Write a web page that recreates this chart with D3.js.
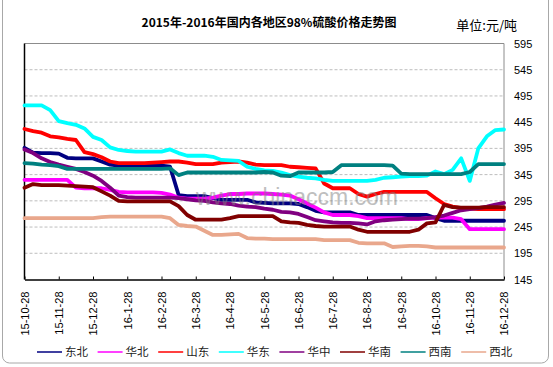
<!DOCTYPE html>
<html>
<head>
<meta charset="utf-8">
<script src="https://cdn.jsdelivr.net/npm/d3@7"></script>
<style>
  body { margin: 0; background: #fff; }
  text { font-family: "Liberation Sans", Arial, sans-serif; }
  .cjk { font-family: "Noto Sans CJK SC", sans-serif; }
</style>
</head>
<body>
<svg id="chart" width="553" height="367"></svg>
<script>
// tick labels on the category axis, one every 4 points
const monthLabels = ['15-10-28', '15-11-28', '15-12-28', '16-1-28', '16-2-28', '16-3-28', '16-4-28',
  '16-5-28', '16-6-28', '16-7-28', '16-8-28', '16-9-28', '16-10-28', '16-11-28', '16-12-28']
const pointsPerMonth = 4
const yTicks = [145, 195, 245, 295, 345, 395, 445, 495, 545, 595]

const regionNames = ['东北', '华北', '山东', '华东', '华中', '华南', '西南', '西北']
const regionColors = ['#000080', '#ff00ff', '#ff0000', '#00ffff', '#800080', '#800000', '#008080', '#e9a78c']

// prices, yuan/ton
const dongbei = [396, 387, 386, 386, 385, 377, 376, 376, 376, 370, 364, 362, 362, 362, 362, 362, 362, 360, 306, 304,
  304, 304, 300, 297, 297, 297, 297, 292, 291, 290, 290, 290, 289, 283, 276, 273, 273, 273, 273, 268,
  268, 268, 268, 268, 268, 268, 268, 268, 262, 257, 257, 257, 257, 257, 257, 257, 257]
const huabei = [335, 335, 335, 335, 335, 335, 320, 319, 319, 319, 316, 312, 311, 311, 311, 311, 310, 307, 301, 299,
  299, 299, 301, 305, 308, 308, 309, 309, 309, 308, 307, 305, 298, 290, 282, 273, 268, 268, 268, 266,
  262, 262, 262, 262, 262, 260, 260, 262, 263, 263, 263, 260, 241, 241, 241, 241, 241]
const shandong = [432, 428, 425, 418, 416, 413, 411, 388, 384, 378, 370, 367, 367, 367, 367, 368, 369, 370, 370, 368,
  365, 365, 365, 368, 369, 370, 368, 364, 363, 363, 363, 360, 359, 358, 357, 328, 319, 319, 319, 308,
  303, 308, 312, 312, 312, 312, 312, 312, 300, 289, 284, 281, 280, 279, 279, 279, 279]
const huadong = [477, 477, 477, 468, 447, 443, 440, 433, 417, 411, 397, 392, 390, 389, 389, 389, 389, 393, 386, 381,
  381, 381, 379, 373, 372, 371, 360, 356, 353, 352, 349, 344, 341, 339, 338, 335, 333, 333, 333, 333,
  333, 335, 339, 340, 341, 342, 342, 343, 351, 346, 354, 376, 333, 395, 418, 430, 431]
const huazhong = [393, 386, 376, 369, 364, 360, 356, 350, 343, 333, 320, 305, 302, 301, 301, 301, 301, 301, 300, 298,
  296, 295, 292, 290, 289, 286, 284, 283, 280, 278, 274, 273, 270, 264, 258, 256, 254, 253, 253, 252,
  250, 256, 258, 259, 260, 261, 261, 262, 264, 267, 272, 277, 279, 281, 284, 288, 291]
const huanan = [320, 327, 325, 325, 325, 324, 323, 322, 321, 313, 305, 295, 294, 294, 294, 294, 294, 294, 285, 268,
  259, 259, 259, 259, 262, 266, 266, 266, 266, 266, 256, 254, 253, 249, 247, 246, 246, 246, 246, 240,
  236, 236, 236, 236, 236, 236, 240, 252, 254, 287, 283, 282, 282, 282, 283, 283, 283]
const xinan = [367, 366, 364, 363, 361, 356, 356, 356, 356, 356, 356, 356, 356, 356, 356, 356, 356, 357, 344, 349,
  349, 349, 349, 349, 349, 349, 349, 349, 350, 349, 343, 342, 349, 349, 349, 349, 350, 363, 363, 363,
  363, 363, 363, 362, 347, 346, 346, 346, 346, 346, 346, 346, 350, 365, 365, 365, 365]
const xibei = [262, 262, 262, 262, 262, 262, 262, 262, 262, 264, 265, 265, 265, 265, 265, 265, 265, 262, 249, 247,
  246, 238, 230, 230, 231, 232, 224, 223, 223, 222, 222, 222, 222, 222, 222, 220, 220, 220, 220, 215,
  214, 214, 214, 207, 208, 209, 209, 208, 206, 206, 206, 206, 206, 206, 206, 206, 206]

const seriesValues = [dongbei, huabei, shandong, huadong, huazhong, huanan, xinan, xibei]

const svg = d3.select('#chart')
const plot = { left: 24.5, right: 504, top: 43.5, bottom: 279.5 }
const nPoints = (monthLabels.length - 1) * pointsPerMonth + 1

const x = d3.scaleLinear().domain([0, nPoints - 1]).range([plot.left, plot.right])
const y = d3.scaleLinear().domain([145, 595]).range([plot.bottom, plot.top])

// outer frame
svg.append('rect')
  .attr('x', 2.5).attr('y', -12).attr('width', 546).attr('height', 375).attr('rx', 7)
  .attr('fill', '#fff').attr('stroke', '#a8a8a8')

// title
svg.append('text').attr('class', 'cjk')
  .attr('x', 269).attr('y', 27).attr('text-anchor', 'middle')
  .attr('font-size', 12).attr('font-weight', 'bold')
  .text('2015年-2016年国内各地区98%硫酸价格走势图')
svg.append('text').attr('class', 'cjk')
  .attr('x', 517).attr('y', 30).attr('text-anchor', 'end')
  .attr('font-size', 13)
  .text('单位:元/吨')

// gridlines
svg.append('g')
  .selectAll('line')
  .data(yTicks.slice(1, -1))
  .enter().append('line')
  .attr('x1', plot.left).attr('x2', plot.right)
  .attr('y1', d => y(d)).attr('y2', d => y(d))
  .attr('stroke', '#bdbdbd').attr('stroke-dasharray', '3,2')

// top / right border
svg.append('path')
  .attr('d', `M${plot.left},${plot.top}H${plot.right}V${plot.bottom}`)
  .attr('fill', 'none').attr('stroke', '#8c8c8c')

// y axis labels on the right
const yAxis = svg.append('g')
  .attr('transform', 'translate(' + plot.right + ',0)')
  .call(d3.axisRight(y).tickValues(yTicks).tickFormat(d3.format('d')).tickSize(0).tickPadding(10))
yAxis.select('.domain').remove()
yAxis.selectAll('text').attr('font-size', 11).attr('fill', '#000')
  .attr('font-family', '"Liberation Sans", Arial, sans-serif')

// x axis
const xAxis = svg.append('g')
  .attr('transform', 'translate(0,' + plot.bottom + ')')
  .call(d3.axisBottom(x)
    .tickValues(d3.range(0, nPoints, pointsPerMonth))
    .tickFormat(i => monthLabels[i / pointsPerMonth])
    .tickSizeInner(-3).tickSizeOuter(0))
xAxis.select('.domain').attr('stroke', '#000').attr('stroke-width', 1.5)
xAxis.selectAll('.tick line').attr('stroke', '#000')
xAxis.selectAll('text')
  .attr('font-size', 11).attr('fill', '#000')
  .attr('font-family', '"Liberation Sans", Arial, sans-serif')
  .attr('text-anchor', 'end')
  .attr('transform', 'rotate(-90)')
  .attr('x', -12).attr('y', 0).attr('dy', '0.35em')

// left axis line
svg.append('line')
  .attr('x1', plot.left).attr('x2', plot.left)
  .attr('y1', plot.top).attr('y2', plot.bottom)
  .attr('stroke', '#000').attr('stroke-width', 1.5)

// lines
const line = d3.line()
  .x((d, i) => x(i))
  .y(d => y(d))

svg.append('g')
  .selectAll('path')
  .data(seriesValues)
  .enter().append('path')
  .attr('d', d => line(d))
  .attr('fill', 'none')
  .attr('stroke', (d, i) => regionColors[i])
  .attr('stroke-width', 3.8)
  .attr('stroke-linejoin', 'round')
  .attr('stroke-linecap', 'round')

// watermark
svg.append('text')
  .attr('x', 398).attr('y', 205).attr('text-anchor', 'end')
  .attr('font-size', 23).attr('fill', '#808080').attr('opacity', 0.5)
  .text('www.chinaccm.com')

// legend
const legend = svg.append('g')
  .selectAll('g')
  .data(regionNames)
  .enter().append('g')
  .attr('transform', (d, i) => 'translate(' + (37 + i * 60.6) + ',352)')
legend.append('line')
  .attr('x1', 0).attr('x2', 25).attr('y1', 0).attr('y2', 0)
  .attr('stroke', (d, i) => regionColors[i]).attr('stroke-width', 1.5)
legend.append('text').attr('class', 'cjk')
  .attr('x', 28).attr('dy', '0.35em')
  .attr('font-size', 11.5).attr('fill', '#222')
  .text(d => d)
</script>
</body>
</html>
